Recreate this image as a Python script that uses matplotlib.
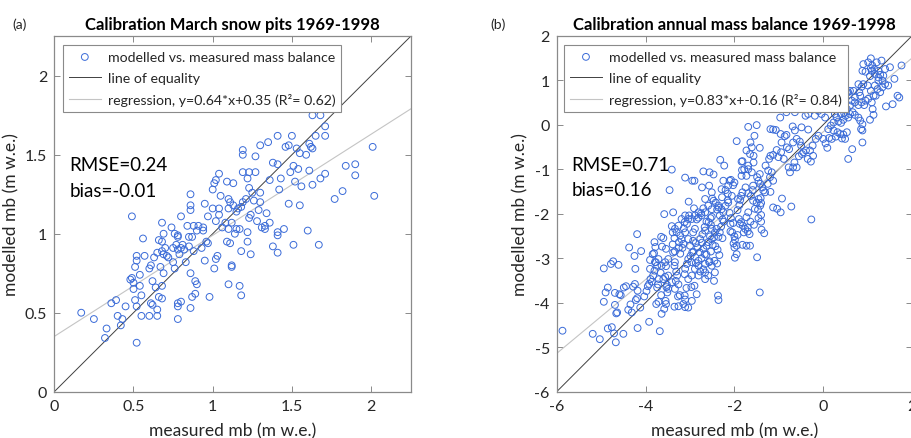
import matplotlib
matplotlib.use("Agg")
import matplotlib.pyplot as plt
import numpy as np

plt.rcParams['font.family'] = ['Lato', 'DejaVu Sans']

# ---------------- Panel (a): March snow pits, (measured, modelled) in m w.e. ----------------
a_points = [
    (0.17, 0.50), (0.25, 0.46), (0.33, 0.40), (0.32, 0.34), (0.36, 0.56), (0.39, 0.58),
    (0.40, 0.48), (0.43, 0.46), (0.42, 0.42), (0.45, 0.54), (0.52, 0.31), (0.49, 1.11),
    (0.48, 0.71), (0.49, 0.72), (0.50, 0.69), (0.51, 0.79), (0.52, 0.86), (0.52, 0.83),
    (0.50, 0.65), (0.51, 0.58), (0.52, 0.54), (0.54, 0.74), (0.54, 0.67), (0.55, 0.61),
    (0.55, 0.48), (0.56, 0.97), (0.57, 0.86), (0.60, 0.48), (0.60, 0.78), (0.61, 0.80),
    (0.61, 0.56), (0.62, 0.55), (0.62, 0.70), (0.63, 0.85), (0.64, 0.66), (0.65, 0.88),
    (0.65, 0.52), (0.65, 0.48), (0.66, 0.96), (0.66, 0.60), (0.68, 0.67), (0.67, 0.79),
    (0.68, 0.95), (0.68, 0.89), (0.68, 0.59), (0.68, 1.07), (0.69, 1.00), (0.69, 0.87),
    (0.69, 0.75), (0.70, 0.91), (0.71, 0.86), (0.72, 0.85), (0.74, 1.04), (0.75, 0.91),
    (0.75, 0.82), (0.76, 0.78), (0.76, 1.00), (0.77, 0.93), (0.78, 0.98), (0.78, 0.90),
    (0.78, 0.56), (0.78, 0.54), (0.78, 0.99), (0.79, 0.87), (0.78, 0.46), (0.80, 0.57),
    (0.80, 1.11), (0.80, 0.91), (0.81, 0.93), (0.82, 0.90), (0.83, 0.82), (0.84, 1.05),
    (0.85, 0.92), (0.85, 0.98), (0.86, 1.18), (0.86, 1.15), (0.86, 1.25), (0.87, 0.98),
    (0.86, 0.75), (0.86, 0.53), (0.87, 0.60), (0.88, 0.89), (0.88, 1.05), (0.89, 0.62),
    (0.89, 0.70), (0.90, 0.68), (0.90, 1.02), (0.91, 1.05), (0.93, 0.91), (0.94, 1.02),
    (0.94, 1.04), (0.95, 0.83), (0.95, 1.19), (0.96, 0.95), (0.97, 0.94), (0.97, 1.11),
    (0.98, 0.60), (1.00, 1.16), (1.00, 1.28), (1.01, 1.32), (1.02, 1.34), (1.04, 1.38),
    (1.02, 0.84), (1.01, 0.78), (1.03, 0.86), (1.02, 1.08), (1.04, 1.12), (1.04, 1.16),
    (1.05, 1.24), (1.06, 1.04), (1.08, 1.07), (1.09, 1.33), (1.09, 0.95), (1.10, 1.22),
    (1.10, 1.16), (1.10, 1.03), (1.10, 0.68), (1.11, 1.20), (1.11, 0.94), (1.12, 1.07),
    (1.12, 0.79), (1.12, 0.80), (1.13, 1.32), (1.13, 1.18), (1.14, 1.00), (1.15, 1.03),
    (1.15, 1.14), (1.16, 1.16), (1.17, 0.67), (1.17, 1.03), (1.18, 0.61), (1.18, 1.17),
    (1.18, 0.89), (1.19, 1.39), (1.19, 1.50), (1.19, 1.53), (1.19, 1.20), (1.21, 1.22),
    (1.22, 1.01), (1.22, 0.95), (1.22, 1.35), (1.23, 1.39), (1.23, 1.10), (1.23, 1.29),
    (1.24, 1.12), (1.24, 0.87), (1.25, 1.26), (1.26, 1.21), (1.27, 1.39), (1.27, 1.49),
    (1.28, 1.08), (1.29, 1.15), (1.30, 1.26), (1.30, 1.20), (1.30, 1.56), (1.31, 1.04),
    (1.33, 1.05), (1.33, 1.03), (1.34, 1.13), (1.35, 1.58), (1.36, 1.34), (1.36, 1.07),
    (1.38, 0.92), (1.38, 1.45), (1.41, 1.62), (1.41, 0.88), (1.41, 0.99), (1.41, 1.44),
    (1.41, 1.01), (1.42, 1.28), (1.43, 1.35), (1.45, 1.03), (1.46, 1.55), (1.48, 1.56),
    (1.48, 1.19), (1.49, 1.39), (1.50, 1.62), (1.51, 0.93), (1.51, 1.43), (1.52, 1.33),
    (1.53, 1.54), (1.54, 1.41), (1.55, 1.18), (1.55, 1.51), (1.56, 1.30), (1.59, 1.50),
    (1.60, 1.02), (1.61, 1.40), (1.61, 1.57), (1.62, 1.55), (1.63, 1.31), (1.63, 1.75),
    (1.63, 1.54), (1.65, 1.62), (1.67, 0.93), (1.68, 1.75), (1.68, 1.35), (1.71, 1.38),
    (1.71, 1.68), (1.71, 1.62), (1.77, 1.22), (1.82, 1.27), (1.84, 1.43), (1.90, 1.44),
    (1.90, 1.37), (2.01, 1.55), (2.02, 1.24),
]

# ---------------- Panel (b): annual mass balance, (measured, modelled) in m w.e. ----------------
b_points = [
    (-5.87, -4.63), (-5.19, -4.70), (-5.03, -4.82), (-4.67, -4.89), (-4.85, -4.58), (-4.76, -4.55),
    (-4.71, -4.69), (-4.50, -4.70), (-4.18, -4.57), (-3.92, -4.43), (-3.68, -4.64), (-4.94, -3.98),
    (-4.90, -3.77), (-4.85, -3.66), (-4.94, -3.23), (-4.78, -3.13), (-4.73, -3.07), (-4.61, -3.15),
    (-4.69, -3.78), (-4.59, -3.81), (-4.66, -4.24), (-4.64, -4.22), (-4.69, -4.05), (-4.56, -3.83),
    (-4.49, -3.66), (-4.44, -3.63), (-4.39, -4.16), (-4.34, -4.04), (-4.31, -4.22), (-4.37, -2.76),
    (-4.19, -2.46), (-4.25, -2.95), (-4.23, -3.24), (-4.28, -3.64), (-4.24, -3.58), (-4.18, -3.73),
    (-4.19, -3.90), (-4.10, -2.84), (-4.22, -3.94), (-4.12, -4.11), (-4.03, -3.86), (-3.98, -3.74),
    (-3.95, -3.63), (-3.92, -3.58), (-3.89, -3.47), (-3.86, -3.53), (-3.90, -3.24), (-3.90, -3.04),
    (-3.84, -2.91), (-3.81, -2.89), (-3.80, -2.64), (-3.78, -2.75), (-3.77, -3.09), (-3.80, -3.28),
    (-3.74, -3.17), (-3.72, -3.59), (-3.74, -3.66), (-3.76, -4.03), (-3.71, -3.98), (-3.65, -3.83),
    (-3.66, -3.33), (-3.63, -2.74), (-3.60, -2.55), (-3.58, -2.01), (-3.65, -2.52), (-3.54, -2.79),
    (-3.54, -3.18), (-3.56, -3.42), (-3.60, -3.47), (-3.53, -3.65), (-3.52, -3.60), (-3.51, -3.77),
    (-3.54, -4.03), (-3.55, -3.96), (-3.58, -4.14), (-3.64, -4.25), (-3.41, -1.01), (-3.46, -1.47),
    (-3.38, -1.97), (-3.41, -2.28), (-3.39, -2.42), (-3.35, -2.55), (-3.39, -2.69), (-3.34, -2.85),
    (-3.35, -3.17), (-3.34, -3.09), (-3.31, -3.30), (-3.29, -3.39), (-3.32, -3.51), (-3.26, -3.59),
    (-3.23, -3.83), (-3.27, -3.86), (-3.26, -4.08), (-3.35, -4.09), (-3.15, -4.03), (-3.12, -3.84),
    (-3.11, -3.93), (-3.11, -4.10), (-3.04, -4.11), (-2.96, -3.96), (-3.08, -3.67), (-2.97, -3.65),
    (-2.85, -3.81), (-2.90, -3.62), (-3.12, -3.36), (-3.11, -3.24), (-3.07, -3.13), (-3.22, -2.90),
    (-3.17, -2.77), (-3.15, -2.68), (-3.25, -2.64), (-3.19, -2.58), (-3.22, -2.49), (-3.14, -2.33),
    (-3.07, -2.23), (-3.12, -2.19), (-3.04, -2.12), (-3.02, -2.04), (-3.11, -1.19), (-3.03, -1.73),
    (-2.95, -1.26), (-2.90, -1.26), (-2.91, -1.88), (-2.85, -2.13), (-2.81, -2.09), (-2.89, -2.34),
    (-2.93, -2.42), (-2.93, -2.61), (-2.87, -2.66), (-2.92, -2.86), (-2.99, -2.95), (-2.97, -3.09),
    (-2.87, -3.11), (-2.81, -3.06), (-2.77, -3.30), (-2.70, -3.25), (-2.66, -3.13), (-2.74, -3.00),
    (-2.67, -2.91), (-2.73, -2.65), (-2.77, -2.57), (-2.72, -2.46), (-2.66, -2.38), (-2.67, -2.30),
    (-2.63, -2.18), (-2.74, -2.04), (-2.70, -1.88), (-2.75, -1.99), (-2.73, -1.41), (-2.70, -1.05),
    (-2.56, -1.07), (-2.47, -1.12), (-2.57, -1.37), (-2.51, -1.52), (-2.47, -1.71), (-2.50, -1.66),
    (-2.42, -1.75), (-2.36, -1.82), (-2.39, -1.91), (-2.36, -1.86), (-2.51, -2.07), (-2.54, -2.10),
    (-2.58, -2.19), (-2.53, -2.25), (-2.51, -2.34), (-2.55, -2.51), (-2.46, -2.53), (-2.49, -2.70),
    (-2.53, -2.85), (-2.63, -2.92), (-2.57, -3.09), (-2.56, -3.07), (-2.45, -3.06), (-2.39, -3.12),
    (-2.46, -3.51), (-2.37, -3.84), (-2.36, -3.94), (-2.43, -2.73), (-2.38, -2.81), (-2.34, -2.93),
    (-2.36, -2.52), (-2.27, -2.55), (-2.30, -2.29), (-2.27, -2.13), (-2.24, -2.18), (-2.29, -1.90),
    (-2.28, -1.63), (-2.25, -1.26), (-2.32, -0.79), (-2.23, -0.92), (-2.29, -1.45), (-2.20, -1.47),
    (-2.15, -1.55), (-2.14, -1.37), (-2.11, -1.26), (-2.08, -1.24), (-2.00, -1.30), (-2.03, -1.36),
    (-2.06, -1.60), (-2.15, -1.70), (-2.11, -1.98), (-2.08, -2.10), (-2.09, -2.23), (-2.03, -2.21),
    (-2.09, -2.40), (-2.05, -2.42), (-2.00, -2.51), (-1.99, -2.59), (-1.95, -2.72), (-2.00, -2.76),
    (-1.99, -2.99), (-1.95, -2.91), (-2.02, -2.67), (-1.93, -2.48), (-1.88, -2.23), (-1.90, -2.12),
    (-1.85, -2.19), (-1.81, -2.27), (-1.76, -2.34), (-1.79, -2.42), (-1.70, -2.40), (-1.66, -2.46),
    (-1.65, -2.72), (-1.73, -2.72), (-1.82, -2.70), (-1.93, -1.92), (-1.89, -1.81), (-1.87, -1.69),
    (-1.85, -1.60), (-1.82, -1.52), (-1.92, -1.67), (-1.84, -1.15), (-1.84, -0.83), (-1.78, -1.00),
    (-1.73, -1.15), (-1.75, -1.41), (-1.69, -1.54), (-1.63, -1.60), (-1.59, -1.47), (-1.58, -1.37),
    (-1.61, -1.07), (-1.57, -0.85), (-1.49, -1.18), (-1.43, -1.11), (-1.46, -1.26), (-1.42, -1.33),
    (-1.37, -1.41), (-1.58, -1.71), (-1.50, -1.75), (-1.46, -1.67), (-1.54, -1.89), (-1.47, -1.91),
    (-1.42, -1.82), (-1.40, -2.03), (-1.40, -2.18), (-1.46, -2.10), (-1.56, -2.25), (-1.69, -1.97),
    (-1.73, -2.08), (-1.64, -2.18), (-1.70, -2.31), (-1.49, -2.98), (-1.43, -3.77), (-1.39, -2.36),
    (-1.33, -2.44), (-1.41, -1.65), (-1.40, -1.76), (-1.35, -1.48), (-1.31, -1.52), (-1.25, -1.33),
    (-1.19, -1.51), (-1.20, -1.18), (-1.24, -1.03), (-1.16, -1.07), (-1.13, -1.26), (-1.13, -1.86),
    (-1.04, -1.89), (-0.96, -1.97), (-0.93, -1.66), (-0.72, -1.84), (-0.27, -2.13), (-1.30, -0.92),
    (-1.22, -0.77), (-1.19, -0.70), (-1.13, -0.68), (-1.05, -0.57), (-1.01, -0.73), (-0.95, -0.62),
    (-0.82, -0.51), (-0.77, -0.55), (-0.94, -0.40), (-0.89, -0.77), (-0.96, -0.21), (-0.87, -0.26),
    (-0.83, -0.23), (-1.19, -0.10), (-1.13, -0.11), (-1.07, -0.12), (-1.50, -0.01), (-1.69, -0.05),
    (-1.55, -0.25), (-1.64, -0.40), (-1.61, -0.51), (-1.57, -0.70), (-1.43, -0.52), (-1.65, -0.66),
    (-1.69, -0.92), (-1.73, -0.58), (-1.95, -0.37), (-1.82, -0.82), (-1.83, -1.02), (-1.69, -1.00),
    (-0.78, -0.96), (-0.75, -1.07), (-0.68, -0.96), (-0.60, -0.96), (-0.65, -0.85), (-0.68, -0.40),
    (-0.60, -0.32), (-0.53, -0.38), (-0.50, -0.47), (-0.45, -0.62), (-0.39, -0.58), (-0.48, -0.66),
    (-0.55, -0.71), (-0.35, -0.77), (-0.28, -0.83), (-0.23, -0.70), (-0.30, -0.58), (-0.24, -0.47),
    (-0.17, -0.32), (-0.11, -0.25), (0.00, -0.32), (0.05, -0.42), (0.09, -0.52), (0.13, -0.30),
    (0.19, -0.32), (0.28, -0.27), (0.32, -0.17), (0.38, -0.21), (0.45, -0.22), (0.53, -0.17),
    (0.56, -0.77), (0.65, -0.55), (0.49, -0.32), (0.42, -0.31), (0.23, -0.13), (0.11, -0.10),
    (0.17, -0.02), (0.23, 0.05), (0.30, 0.16), (0.26, 0.24), (0.34, 0.07), (0.40, 0.04),
    (0.45, 0.11), (0.40, 0.24), (0.47, 0.26), (0.50, 0.20), (0.56, 0.16), (0.60, 0.24),
    (0.66, 0.28), (0.71, 0.22), (0.79, 0.16), (0.83, 0.09), (0.88, 0.01), (0.85, -0.10),
    (0.88, -0.13), (0.88, -0.40), (1.05, 0.11), (1.13, 0.22), (0.53, 0.35), (0.60, 0.43),
    (0.71, 0.50), (0.79, 0.44), (0.86, 0.50), (0.92, 0.44), (0.95, 0.54), (1.01, 0.58),
    (1.09, 0.50), (0.83, 0.65), (0.71, 0.61), (0.64, 0.54), (0.49, 0.65), (0.56, 0.73),
    (0.68, 0.76), (0.81, 0.73), (0.86, 0.85), (0.79, 0.91), (0.90, 0.91), (1.00, 0.88),
    (1.07, 0.76), (1.13, 0.65), (1.18, 0.65), (1.28, 0.73), (1.22, 0.80), (1.16, 0.88),
    (1.24, 0.99), (1.33, 0.99), (1.39, 0.91), (1.46, 0.88), (1.35, 1.10), (1.28, 1.12),
    (1.16, 1.14), (1.09, 1.21), (1.15, 1.25), (1.24, 1.21), (0.88, 1.21), (0.95, 1.19),
    (1.05, 1.09), (1.01, 1.40), (1.10, 1.33), (1.07, 1.49), (1.20, 1.40), (1.31, 1.44),
    (1.39, 1.25), (1.50, 1.29), (1.60, 1.03), (1.67, 0.65), (1.71, 0.61), (1.76, 1.33),
    (1.41, 0.41), (1.56, 0.46), (0.90, 1.36), (1.11, 0.35), (1.07, 1.27), (1.24, 1.06),
    (1.33, 0.84), (-0.97, 0.16), (-0.83, 0.28), (-0.64, 0.28), (-0.40, 0.20), (-0.34, 0.24),
    (-0.19, 0.20), (-0.11, 0.31), (-0.04, 0.24), (0.04, 0.16), (0.41, 0.65), (0.53, 0.73),
    (0.60, 0.76), (0.41, 0.35), (0.49, 0.54), (-0.69, -0.04), (-0.64, -0.13), (-0.49, -0.06),
    (-0.34, -0.11), (-3.34, -2.34), (-3.30, -2.42), (-3.25, -2.76), (-3.11, -2.42), (-3.04, -2.57),
    (-3.00, -2.72), (-2.95, -2.87), (-2.83, -2.76), (-2.78, -2.87), (-2.70, -2.79), (-2.63, -2.72),
    (-2.59, -2.64), (-2.51, -2.57), (-2.44, -2.42), (-2.40, -2.34), (-2.33, -2.42), (-3.04, -3.02),
    (-2.89, -3.24), (-2.81, -3.17), (-2.66, -3.32), (-2.59, -3.39), (-2.51, -3.17), (-3.38, -2.87),
    (-3.49, -3.02), (-3.56, -3.09), (-3.64, -3.17), (-3.71, -3.02), (-3.79, -3.09), (-3.83, -3.39),
    (-3.70, -3.47), (-3.49, -3.39), (-3.41, -3.54), (-3.49, -3.69), (-3.34, -3.69), (-3.04, -3.47),
    (-2.96, -3.39), (-2.81, -3.39), (-2.66, -3.47), (-2.44, -3.32), (-2.33, -2.04), (-2.25, -1.97),
    (-2.20, -1.82), (-2.14, -1.75), (-2.59, -1.82), (-2.66, -1.97), (-2.81, -1.97), (-2.89, -2.04),
    (-2.96, -2.12), (-3.11, -2.04), (-3.19, -2.12), (-3.26, -2.27), (-2.66, -1.67), (-2.51, -1.90),
]

a_meas, a_model = [p[0] for p in a_points], [p[1] for p in a_points]
b_meas, b_model = [p[0] for p in b_points], [p[1] for p in b_points]

reg_a = (0.64, 0.35)
reg_b = (0.83, -0.16)
labels_a = ["modelled vs. measured mass balance", "line of equality",
            "regression, y=0.64*x+0.35 (R\u00b2= 0.62)"]
labels_b = ["modelled vs. measured mass balance", "line of equality",
            "regression, y=0.83*x+-0.16 (R\u00b2= 0.84)"]
xticks_a = [0, 0.5, 1, 1.5, 2]
yticks_a = [0, 0.5, 1, 1.5, 2]
xticks_b = [-6, -4, -2, 0, 2]
yticks_b = [-6, -5, -4, -3, -2, -1, 0, 1, 2]

MARK = '#3a6bd8'
TXT = '#262626'
SPINE = '#8a8a8a'

fig = plt.figure(figsize=(9.11, 4.39), dpi=100)


def panel(rect, meas, model, reg, labels, lim, xticks, yticks, title, tag, stats,
          leg_anchor, tag_x):
    ax = fig.add_axes(rect)
    ax.scatter(meas, model, s=24, facecolors='none', edgecolors=MARK, linewidths=0.7,
               label=labels[0], zorder=3)
    xx = np.array(lim)
    ax.plot(xx, xx, color='#404040', lw=0.7, label=labels[1], zorder=2)
    ax.plot(xx, reg[0] * xx + reg[1], color='#c4c4c4', lw=0.8, label=labels[2], zorder=2)
    ax.set_xlim(lim)
    ax.set_ylim(lim)
    ax.set_xticks(xticks)
    ax.set_yticks(yticks)
    ax.set_xticklabels([f"{t:g}" for t in xticks])
    ax.set_yticklabels([f"{t:g}" for t in yticks])
    ax.tick_params(direction='in', length=4, width=0.7, color=SPINE, labelsize=11.5,
                   labelcolor=TXT, top=True, right=True, pad=5)
    for s in ax.spines.values():
        s.set_color(SPINE)
        s.set_linewidth(0.9)
    ax.set_xlabel("measured mb (m w.e.)", fontsize=12.5, color=TXT, labelpad=7)
    ax.set_ylabel("modelled mb (m w.e.)", fontsize=12.5, color=TXT, labelpad=4)
    ax.set_title(title, fontsize=12, fontweight='bold', color='black', pad=5)
    leg = ax.legend(loc='upper left', bbox_to_anchor=leg_anchor, borderaxespad=0,
                    fontsize=10.2, frameon=True, fancybox=False, framealpha=1,
                    edgecolor='#8a8a8a', handlelength=2.3, handletextpad=0.5,
                    labelspacing=0.65, borderpad=0.4, scatterpoints=1)
    leg.get_frame().set_linewidth(0.8)
    for t in leg.get_texts():
        t.set_color(TXT)
    leg.set_zorder(5)
    ax.text(0.042, 0.638, stats[0], transform=ax.transAxes, fontsize=13.5, color='black',
            va='center', ha='left')
    ax.text(0.042, 0.567, stats[1], transform=ax.transAxes, fontsize=13.5, color='black',
            va='center', ha='left')
    fig.text(tag_x, 0.943, tag, fontsize=10, color=TXT, ha='left', va='center')
    return ax


panel([0.0596, 0.1055, 0.3912, 0.8095], a_meas, a_model, reg_a, labels_a,
      (0, 2.25), xticks_a, yticks_a, "Calibration March snow pits 1969-1998", "(a)",
      ("RMSE=0.24", "bias=-0.01"), (0.024, 0.9755), 0.014)

panel([0.6111, 0.1055, 0.3902, 0.811], b_meas, b_model, reg_b, labels_b,
      (-6, 2), xticks_b, yticks_b, "Calibration annual mass balance 1969-1998", "(b)",
      ("RMSE=0.71", "bias=0.16"), (0.0205, 0.974), 0.538)

fig.savefig("out.png", dpi=100)
